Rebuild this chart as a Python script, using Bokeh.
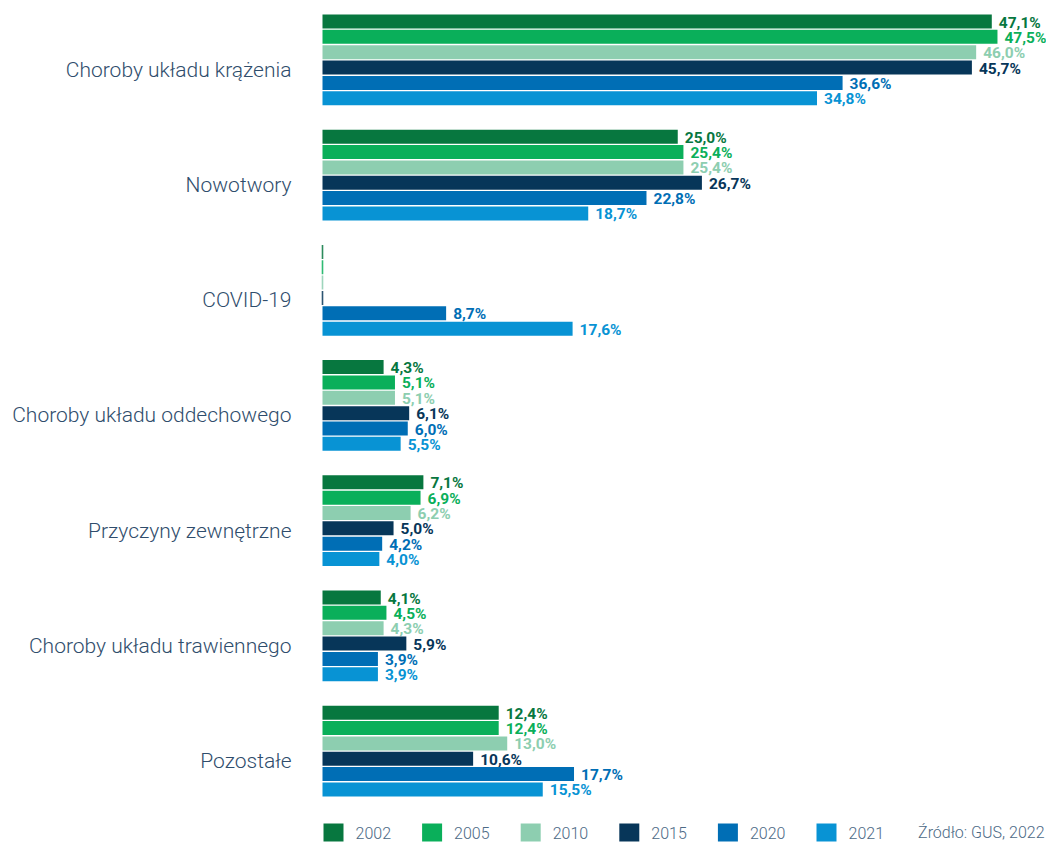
from bokeh.plotting import figure
from bokeh.models import Range1d, ColumnDataSource
from bokeh.core.properties import value
from bokeh.embed import file_html
from bokeh.resources import INLINE

categories = ["Choroby układu krążenia", "Nowotwory", "COVID-19",
              "Choroby układu oddechowego", "Przyczyny zewnętrzne",
              "Choroby układu trawiennego", "Pozostałe"]
years = ["2002", "2005", "2010", "2015", "2020", "2021"]
v2002 = [47.1, 25.0, 0.0, 4.3, 7.1, 4.1, 12.4]
v2005 = [47.5, 25.4, 0.0, 5.1, 6.9, 4.5, 12.4]
v2010 = [46.0, 25.4, 0.0, 5.1, 6.2, 4.3, 13.0]
v2015 = [45.7, 26.7, 0.0, 6.1, 5.0, 5.9, 10.6]
v2020 = [36.6, 22.8, 8.7, 6.0, 4.2, 3.9, 17.7]
v2021 = [34.8, 18.7, 17.6, 5.5, 4.0, 3.9, 15.5]
series = [v2002, v2005, v2010, v2015, v2020, v2021]
colors = ["#07773F", "#0AAF5A", "#8DCEB0", "#073659", "#006EB5", "#0893D4"]
source_text = "Źródło: GUS, 2022"

W, H = 1046, 842
PX0 = 322.0          # pixel position of value 0
PXU = 14.21          # pixels per percent
x0 = -PX0 / PXU
x1 = (W - PX0) / PXU

GROUP_PITCH = 115.2
BAR_PITCH = 15.35
FIRST = 21.0
BAR_H = 14.0

p = figure(width=W, height=H, output_backend="svg", toolbar_location=None,
           x_range=Range1d(x0, x1), y_range=Range1d(H, 0),
           x_axis_location=None, y_axis_location=None,
           min_border=0, min_border_left=0, min_border_right=0,
           min_border_top=0, min_border_bottom=0)
p.outline_line_color = None
p.xgrid.visible = False
p.ygrid.visible = False
p.background_fill_color = "white"
p.border_fill_color = "white"

FONT = value("Roboto")
LIGHT = value("Roboto Light")

for s, (vals, col) in enumerate(zip(series, colors)):
    ys = [FIRST + g * GROUP_PITCH + s * BAR_PITCH for g in range(len(categories))]
    nz = [(y, v) for y, v in zip(ys, vals) if v > 0]
    z = [(y, v) for y, v in zip(ys, vals) if v <= 0]
    src = ColumnDataSource(dict(y=[a for a, b in nz], v=[b for a, b in nz],
                                lab=[("%.1f%%" % b).replace(".", ",") for a, b in nz]))
    p.hbar(y="y", left=0, right="v", height=BAR_H, source=src,
           fill_color=col, line_color=None)
    p.text(x="v", y="y", text="lab", source=src, x_offset=7, y_offset=1,
           text_color=col, text_font=FONT, text_font_style="bold",
           text_font_size="15.5px", text_align="left", text_baseline="middle")
    if z:
        zsrc = ColumnDataSource(dict(y=[a for a, b in z], v=[b for a, b in z]))
        p.hbar(y="y", left=0, right="v", height=BAR_H, source=zsrc,
               fill_color=col, line_color=col, line_width=1.6, line_alpha=0.85)

# category labels
cy = [FIRST + g * GROUP_PITCH + 2.5 * BAR_PITCH + 10 for g in range(len(categories))]
p.text(x=[0] * len(categories), y=cy, text=categories, x_offset=-31,
       text_color="#2F4D6C", text_font=LIGHT, text_font_size="21px",
       text_align="right", text_baseline="middle")

# legend
LEG_Y = 832
LEG_PITCH = 98.6
for i, (yr, col) in enumerate(zip(years, colors)):
    left_px = 323 + i * LEG_PITCH
    cx = (left_px + 10 - PX0) / PXU
    p.rect(x=[cx], y=[LEG_Y], width=20, height=18, width_units="screen",
           height_units="screen", fill_color=col, line_color=None)
    p.text(x=[cx], y=[LEG_Y], text=[yr], x_offset=22, y_offset=0,
           text_color="#4D6A86", text_font=LIGHT, text_font_size="16px",
           text_align="left", text_baseline="middle")

p.text(x=[x1], y=[LEG_Y], text=[source_text], x_offset=-2, y_offset=0,
       text_color="#4D6A86", text_font=LIGHT, text_font_size="16px",
       text_align="right", text_baseline="middle")

open("out.html", "w").write(file_html(p, INLINE))
